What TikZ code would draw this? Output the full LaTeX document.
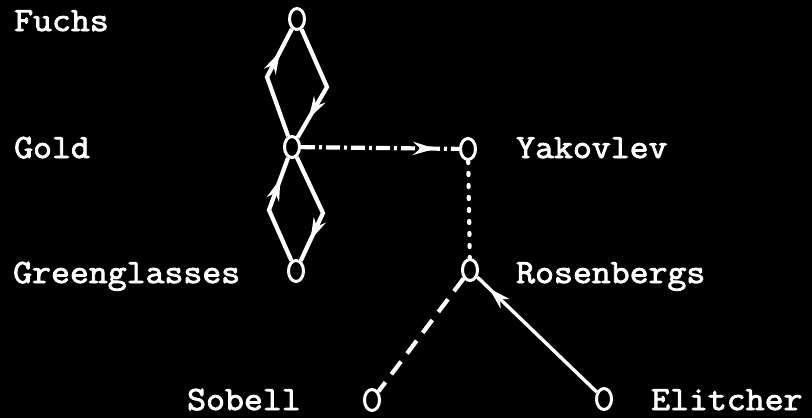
\documentclass[tikz,border=0pt]{standalone}
\usepackage{fontspec}
\newfontfamily\typer[FakeStretch=1.08,FakeBold=2.5]{Latin Modern Mono}
\usetikzlibrary{shapes.geometric, arrows.meta, decorations.markings}

\begin{document}
\begin{tikzpicture}[
    x=1pt, y=-1pt,
    spy/.style={draw=white, ellipse, line width=3pt, minimum width=15pt, minimum height=21pt, inner sep=0pt},
    who/.style={anchor=base west, inner sep=0pt, text=white, font=\fontsize{34}{34}\selectfont\typer},
    link/.style={draw=white, line width=4.2pt},
    headat/.style={postaction={decorate}, decoration={markings, mark=at position #1 with {\arrow[white]{Stealth[length=22pt,width=13pt]}}}}
]
    \fill[black] (0,0) rectangle (812,418);
    \useasboundingbox (0,0) rectangle (812,418);

    % the people
    \node[spy] (fuchs) at (297,19) {};
    \node[spy] (gold) at (292,147) {};
    \node[spy] (green) at (296,271) {};
    \node[spy] (yak) at (468,149) {};
    \node[spy] (rosen) at (470,270) {};
    \node[spy] (sobell) at (372,400) {};
    \node[spy] (elit) at (604,399) {};

    % their names
    \node[who] (tfuchs) at (14,31) {Fuchs};
    \node[who] (tgold) at (14,158) {Gold};
    \node[who] (tgreen) at (13,283) {Greenglasses};
    \node[who] (tyak) at (516,158) {Yakovlev};
    \node[who] (trosen) at (516,283) {Rosenbergs};
    \node[who] (tsobell) at (187,410) {Sobell};
    \node[who] (telit) at (651,410) {Elitcher};

    % Fuchs and Gold
    \draw[link, headat=0.78] (gold) -- (267,77) -- (fuchs);
    \draw[link, headat=0.82] (fuchs) -- (327,87) -- (gold);

    % Gold and Greenglasses
    \draw[link, headat=0.8] (green) -- (269,210) -- (gold);
    \draw[link, headat=0.8] (gold) -- (323,213) -- (green);

    % to Yakovlev and down
    \draw[link, dash pattern=on 14pt off 4pt on 3pt off 4pt, headat=0.85] (gold) -- (yak);
    \draw[link, line cap=round, dash pattern=on 2pt off 10pt] (yak) -- (rosen);

    % below the Rosenbergs
    \draw[link, dash pattern=on 16pt off 10pt] (rosen) -- (sobell);
    \draw[link, line width=3.4pt, headat=0.9] (elit) -- (rosen);
\end{tikzpicture}
\end{document}
